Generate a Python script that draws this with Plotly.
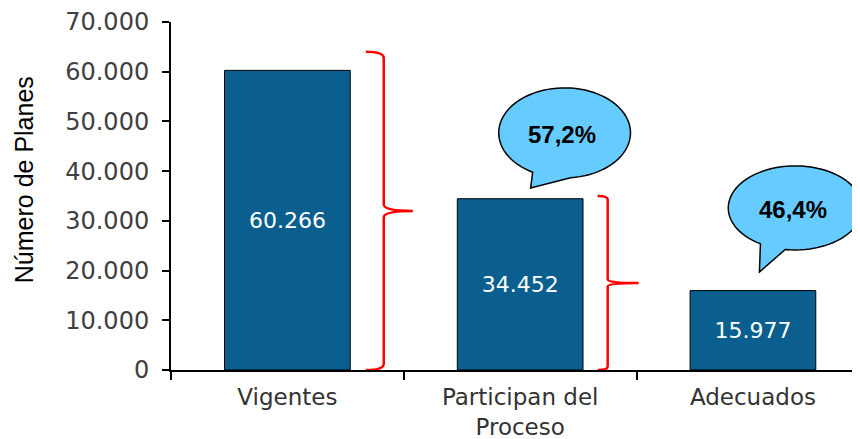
import numpy as np
import plotly.graph_objects as go

categories = ["Vigentes", "Participan del<br>Proceso", "Adecuados"]
values = [60266, 34452, 15977]
percent_labels = ["57,2%", "46,4%"]
y_ticks = [0, 10000, 20000, 30000, 40000, 50000, 60000, 70000]
y_title = "Número de Planes"

# brace spans (y data units)
brace_spans = [(0, 64000), (0, 35000)]

fig = go.Figure()
fig.add_trace(go.Bar(
    x=categories, y=values, width=0.54,
    marker=dict(color="#0B5F8E", line=dict(color="#000000", width=1)),
    texttemplate="%{y:,d}", textposition="inside", insidetextanchor="middle",
    textfont=dict(family="DejaVu Sans", size=22, color="white"),
    hoverinfo="skip",
))


def brace_path(xh, xv, xt, y0, y1):
    ym = (y0 + y1) / 2
    r = (y1 - y0) * 0.02
    return (f"M {xh},{y1} Q {xv},{y1} {xv},{y1 - r} L {xv},{ym + r} "
            f"Q {xv},{ym} {xt},{ym} Q {xv},{ym} {xv},{ym - r} "
            f"L {xv},{y0 + r} Q {xv},{y0} {xh},{y0}")


brace_x = [(0.337, 0.414, 0.539), (1.333, 1.376, 1.509)]
for (xh, xv, xt), (y0, y1) in zip(brace_x, brace_spans):
    fig.add_shape(type="path", path=brace_path(xh, xv, xt, y0, y1),
                  xref="x", yref="y", line=dict(color="#FF0000", width=2.5),
                  layer="above")


def bubble_path(cx, cy, rx, ry, uL, uR, tip):
    thL = np.arctan2(-np.sqrt(1 - uL ** 2), uL) + 2 * np.pi
    thR = np.arctan2(-np.sqrt(1 - uR ** 2), uR)
    th = np.linspace(thR, thL, 80)
    xs = cx + rx * np.cos(th)
    ys = cy + ry * np.sin(th)
    pts = [f"{x:.4f},{y:.1f}" for x, y in zip(xs, ys)]
    return "M " + " L ".join(pts) + f" L {tip[0]},{tip[1]} Z"


bubbles = [
    dict(cx=1.191, cy=47700, rx=0.283, ry=9050, uL=-0.485, uR=0.09, tip=(1.045, 36600)),
    dict(cx=2.182, cy=32600, rx=0.288, ry=8450, uL=-0.52, uR=-0.15, tip=(2.028, 19700)),
]
for b, lab in zip(bubbles, percent_labels):
    fig.add_shape(type="path",
                  path=bubble_path(b["cx"], b["cy"], b["rx"], b["ry"], b["uL"], b["uR"], b["tip"]),
                  xref="x", yref="y", fillcolor="#66CCFF",
                  line=dict(color="#000000", width=1.5), layer="above")
    fig.add_annotation(x=b["cx"] - 0.01, y=b["cy"] - 300, xref="x", yref="y",
                       text=f"<b>{lab}</b>", showarrow=False,
                       font=dict(family="Liberation Sans", size=24, color="#000000"))

fig.add_annotation(x=-0.213, y=0.546, xref="paper", yref="paper", text=y_title,
                   textangle=-90, showarrow=False, xanchor="center", yanchor="middle",
                   font=dict(family="Liberation Sans", size=25, color="#000000"))

fig.update_layout(
    width=860, height=439,
    margin=dict(l=163, r=8, t=14, b=77),
    paper_bgcolor="white", plot_bgcolor="white",
    separators=",.",
    showlegend=False,
    xaxis=dict(
        type="category", range=[-0.5, 2.46], tickson="boundaries",
        ticks="outside", ticklen=8, tickwidth=2, tickcolor="#000000",
        showline=True, linecolor="#000000", linewidth=2,
        showgrid=False, zeroline=False, automargin=False,
        ticklabelstandoff=5,
        tickfont=dict(family="DejaVu Sans", size=23, color="#333333"),
    ),
    yaxis=dict(
        range=[0, 70000], tickvals=y_ticks, tickformat=",d",
        ticks="outside", ticklen=7, tickwidth=2, tickcolor="#000000",
        showline=True, linecolor="#000000", linewidth=2,
        showgrid=False, zeroline=False, automargin=False,
        ticklabelstandoff=8,
        tickfont=dict(family="DejaVu Sans", size=24, color="#404040"),
    ),
)

fig.write_html("out.html")
